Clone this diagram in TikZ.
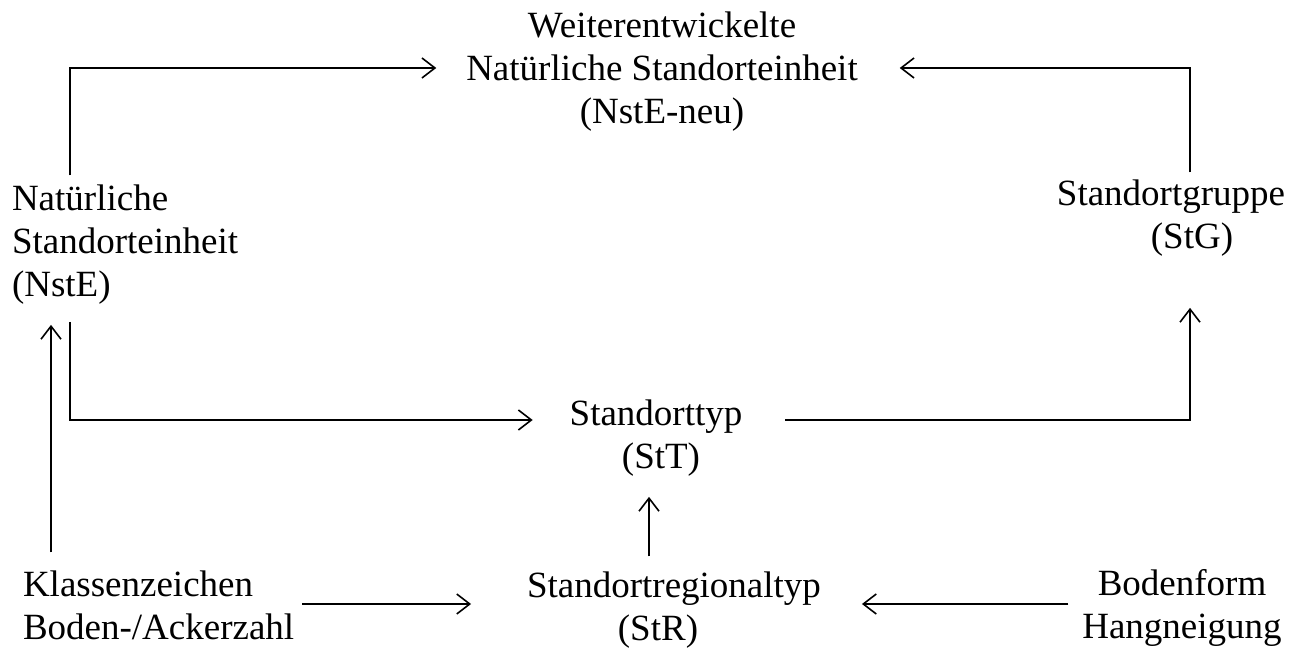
\documentclass[tikz,border=0pt]{standalone}
\usepackage{fontspec}
\setmainfont{Liberation Serif}
\usetikzlibrary{arrows.meta}
\begin{document}
\begin{tikzpicture}[x=0.5pt,y=-0.5pt,
  lbl/.style={inner sep=0pt,outer sep=0pt,font=\fontsize{18.5pt}{21.5pt}\selectfont},
  arr/.style={line width=0.9pt,-{Straight Barb[length=6.5pt,width=10pt,line width=0.8pt]}}]
\useasboundingbox (0,0) rectangle (1299,651);
% nodes (base anchor = baseline of the last line)
\node[lbl,align=center,anchor=base] (neu) at (662,124) {Weiterentwickelte\\Natürliche Standorteinheit\\(NstE-neu)};
\node[lbl,align=left,anchor=base west] (nste) at (12,297) {Natürliche\\Standorteinheit\\(NstE)};
\node[lbl,align=center,anchor=base] (stg) at (1171,249) {Standortgruppe\\\hspace*{21pt}(StG)};
\node[lbl,align=center,anchor=base] (stt) at (656,468) {Standorttyp\\\hspace*{5pt}(StT)};
\node[lbl,align=center,anchor=base] (str) at (674,640) {Standortregionaltyp\\(StR)\hspace*{16pt}};
\node[lbl,align=left,anchor=base west] (kl) at (23,639) {Klassenzeichen\\Boden-/Ackerzahl};
\node[lbl,align=center,anchor=base] (bf) at (1182,638) {Bodenform\\Hangneigung};
% connectors
\draw[arr,shorten <=5pt,shorten >=15pt] (nste.north -| 70,0) -- (70,68) -- (neu.west |- 0,68);
\draw[arr,shorten <=4pt,shorten >=21pt] (stg.north -| 1190,0) -- (1190,68) -- (neu.east |- 0,68);
\draw[arr,shorten <=8.5pt,shorten >=18.5pt] (nste.south -| 70,0) -- (70,420) -- (stt.west |- 0,420);
\draw[arr,shorten <=21.5pt,shorten >=25.5pt] (stt.east |- 0,420) -- (1190,420) -- (stg.south -| 1190,0);
\draw[arr,shorten <=9pt,shorten >=10pt] (kl.north -| 51,0) -- (nste.south -| 51,0);
\draw[arr,shorten <=7.5pt,shorten >=10.5pt] (str.north -| 649,0) -- (stt.south -| 649,0);
\draw[arr,shorten <=4pt,shorten >=28pt] (kl.east |- 0,604) -- (str.west |- 0,604);
\draw[arr,shorten <=7pt,shorten >=20.5pt] (bf.west |- 0,604) -- (str.east |- 0,604);
\end{tikzpicture}
\end{document}
